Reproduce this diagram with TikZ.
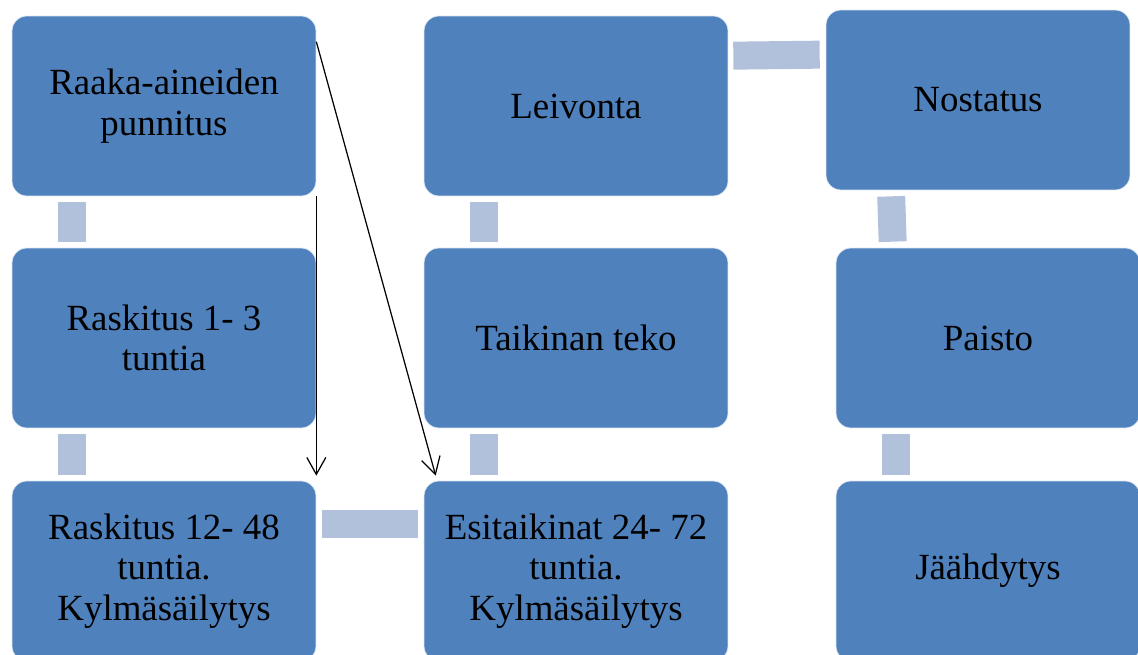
\documentclass[tikz,border=0pt]{standalone}
\usepackage{fontspec}
\setmainfont{Liberation Serif}
\newfontfamily\boxfont{Liberation Serif}
\usetikzlibrary{arrows.meta}
\usetikzlibrary{calc}
\definecolor{boxblue}{HTML}{4F81BD}
\definecolor{barblue}{HTML}{B2C1DB}

\begin{document}
\begin{tikzpicture}[x=0.02cm, y=-0.02cm,
    stepbox/.style={draw=white!80!boxblue, line width=0.4pt, rectangle, rounded corners=0.3cm, fill=boxblue, align=center, minimum width=6.08cm, minimum height=3.6cm, inner sep=0pt, font=\boxfont\fontsize{21}{23}\selectfont},
    bar/.style={draw=barblue, line width=0.56cm},
    arrow/.style={-{Straight Barb[length=0.34cm, width=0.38cm]}, line width=0.7pt}]
  \useasboundingbox (0,0) rectangle (1138,655);
  \clip (0,0) rectangle (1138,655);

  % Process steps
  \node[stepbox] (punnitus) at (164,106) {Raaka-aineiden\\punnitus};
  \node[stepbox] (raskitus) at (164,338) {Raskitus 1- 3\\tuntia};
  \node[stepbox] (kylma) at (164,571) {Raskitus 12- 48\\tuntia.\\Kylmäsäilytys};
  \node[stepbox] (leivonta) at (576,106) {Leivonta};
  \node[stepbox] (taikina) at (576,338) {Taikinan teko};
  \node[stepbox] (esitaikina) at (576,571) {Esitaikinat 24- 72\\tuntia.\\Kylmäsäilytys};
  \node[stepbox] (nostatus) at (978,100) {Nostatus};
  \node[stepbox] (paisto) at (988,338) {Paisto};
  \node[stepbox] (jaahdytys) at (988,571) {Jäähdytys};

  % Flow bars
  \draw[bar] ($(punnitus.south west)+(60,6)$) -- ($(raskitus.north west)+(60,-6)$);
  \draw[bar] ($(raskitus.south west)+(60,6)$) -- ($(kylma.north west)+(60,-6)$);
  \draw[bar] ($(kylma.north east)+(6,43)$) -- ($(esitaikina.north west)+(-6,43)$);
  \draw[bar] ($(esitaikina.north west)+(60,-6)$) -- ($(taikina.south west)+(60,6)$);
  \draw[bar] ($(taikina.north west)+(60,-6)$) -- ($(leivonta.south west)+(60,6)$);
  \draw[bar] ($(leivonta.north east)+(5,40)$) -- ($(nostatus.north west)+(-6,45)$);
  \draw[bar] ($(nostatus.south west)+(65.5,6)$) -- ($(paisto.north west)+(57,-6)$);
  \draw[bar] ($(paisto.south west)+(60,6)$) -- ($(jaahdytys.north west)+(60,-6)$);

  % Shortcuts
  \draw[arrow] (punnitus.south east) -- ($(kylma.north east)+(0,-5)$);
  \draw[arrow] ($(punnitus.north east)+(0,26)$) -- ($(esitaikina.north west)+(12,-5)$);
\end{tikzpicture}
\end{document}
